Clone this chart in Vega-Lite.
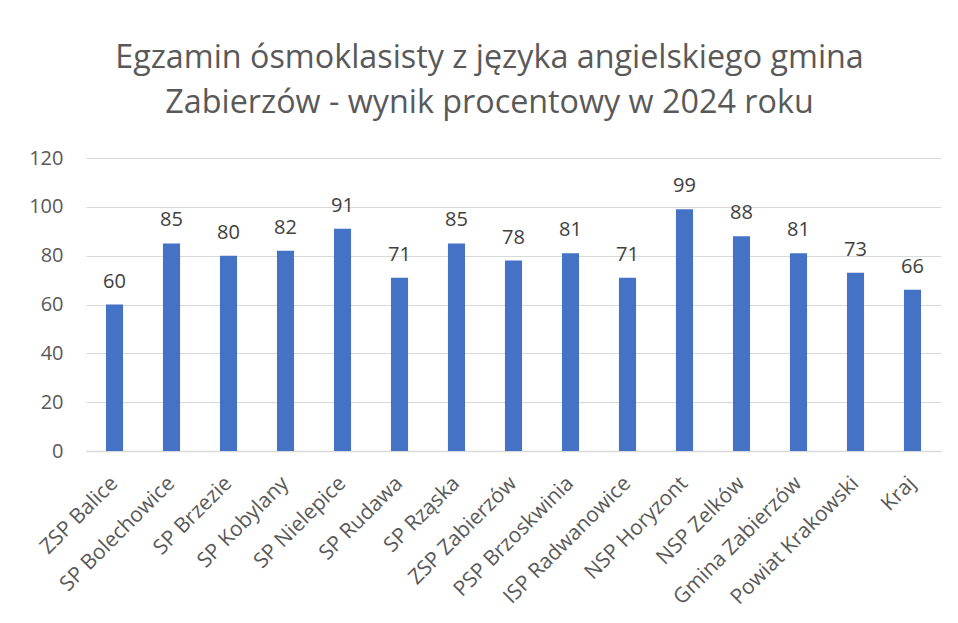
{
  "$schema": "https://vega.github.io/schema/vega-lite/v6.json",
  "width": 855,
  "height": 293,
  "autosize": {"type": "none"},
  "padding": {"left": 86, "top": 158, "right": 17, "bottom": 172},
  "background": "white",
  "config": {"view": {"stroke": null}, "font": "Open Sans"},
  "title": {
    "text": ["Egzamin ósmoklasisty z języka angielskiego gmina", "Zabierzów - wynik procentowy w 2024 roku"],
    "fontSize": 32.3,
    "font": "Open Sans",
    "fontWeight": "normal",
    "color": "#595959",
    "anchor": "middle",
    "dx": -24,
    "offset": 3,
    "lineHeight": 45,
    "baseline": "alphabetic"
  },
  "data": {
    "values": [
      {"szkola": "ZSP Balice", "wynik": 60},
      {"szkola": "SP Bolechowice", "wynik": 85},
      {"szkola": "SP Brzezie", "wynik": 80},
      {"szkola": "SP Kobylany", "wynik": 82},
      {"szkola": "SP Nielepice", "wynik": 91},
      {"szkola": "SP Rudawa", "wynik": 71},
      {"szkola": "SP Rząska", "wynik": 85},
      {"szkola": "ZSP Zabierzów", "wynik": 78},
      {"szkola": "PSP Brzoskwinia", "wynik": 81},
      {"szkola": "ISP Radwanowice", "wynik": 71},
      {"szkola": "NSP Horyzont", "wynik": 99},
      {"szkola": "NSP Zelków", "wynik": 88},
      {"szkola": "Gmina Zabierzów", "wynik": 81},
      {"szkola": "Powiat Krakowski", "wynik": 73},
      {"szkola": "Kraj", "wynik": 66}
    ]
  },
  "encoding": {
    "x": {
      "field": "szkola",
      "type": "nominal",
      "sort": null,
      "scale": {"paddingInner": 0.7, "paddingOuter": 0.35},
      "axis": {
        "title": null,
        "labelAngle": -45,
        "labelAlign": "right",
        "labelBaseline": "middle",
        "labelFontSize": 21,
        "labelColor": "#595959",
        "labelPadding": 29,
        "labelFont": "Open Sans",
        "ticks": false,
        "domainColor": "#d9d9d9",
        "domainWidth": 1.5
      }
    },
    "y": {
      "field": "wynik",
      "type": "quantitative",
      "scale": {"domain": [0, 120], "nice": false},
      "axis": {
        "title": null,
        "values": [0, 20, 40, 60, 80, 100, 120],
        "labelFontSize": 20,
        "labelColor": "#595959",
        "labelFont": "Open Sans",
        "labelPadding": 23,
        "ticks": false,
        "domain": false,
        "gridColor": "#d9d9d9",
        "gridWidth": 1.2
      }
    }
  },
  "layer": [
    {"mark": {"type": "bar", "color": "#4472C4"}},
    {
      "mark": {"type": "text", "fontSize": 20, "color": "#404040", "baseline": "alphabetic", "dy": -17, "font": "Open Sans"},
      "encoding": {"text": {"field": "wynik", "type": "quantitative"}}
    }
  ]
}
